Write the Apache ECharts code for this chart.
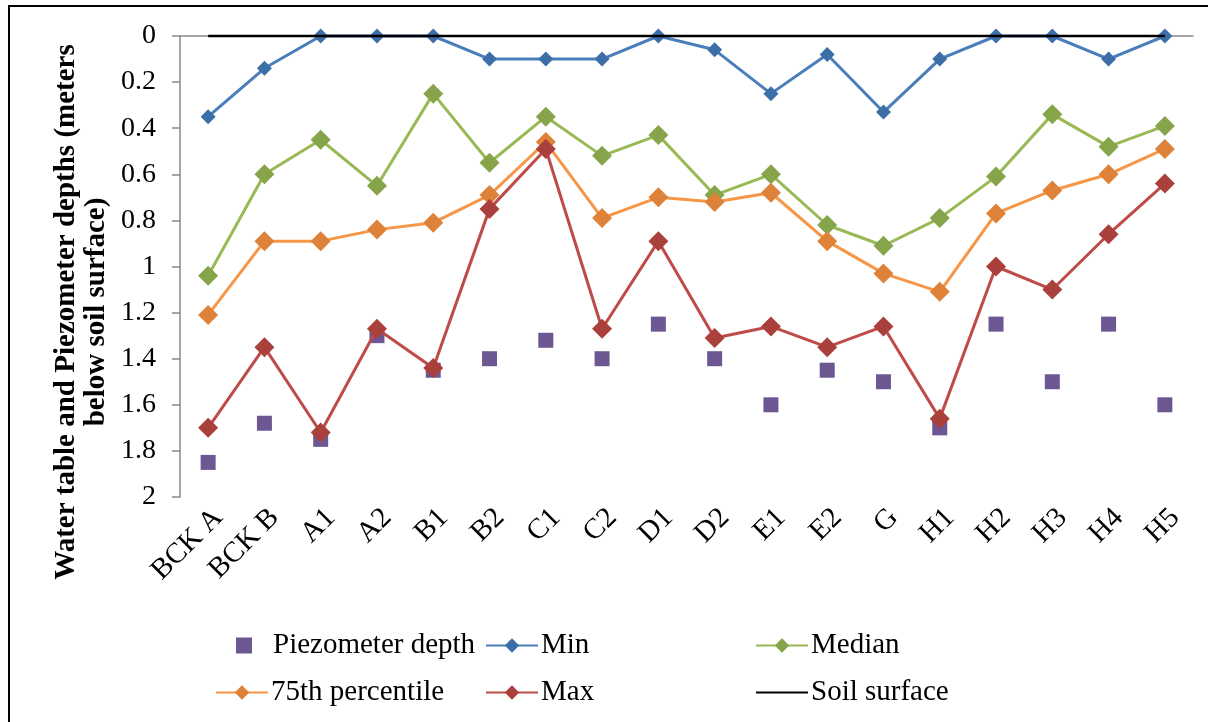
<!DOCTYPE html>
<html>
<head>
<meta charset="utf-8">
<script src="https://cdn.jsdelivr.net/npm/echarts@6/dist/echarts.min.js"></script>
<style>
html,body{margin:0;padding:0;background:#fff;}
#chart{width:1208px;height:722px;}
</style>
</head>
<body>
<div id="chart"></div>
<script>
const categories = ['BCK A','BCK B','A1','A2','B1','B2','C1','C2','D1','D2','E1','E2','G','H1','H2','H3','H4','H5'];
const piezometerDepth = [1.85,1.68,1.75,1.30,1.45,1.40,1.32,1.40,1.25,1.40,1.60,1.45,1.50,1.70,1.25,1.50,1.25,1.60];
const minDepth = [0.35,0.14,0,0,0,0.10,0.10,0.10,0,0.06,0.25,0.08,0.33,0.10,0,0,0.10,0];
const medianDepth = [1.04,0.60,0.45,0.65,0.25,0.55,0.35,0.52,0.43,0.69,0.60,0.82,0.91,0.79,0.61,0.34,0.48,0.39];
const p75Depth = [1.21,0.89,0.89,0.84,0.81,0.69,0.46,0.79,0.70,0.72,0.68,0.89,1.03,1.11,0.77,0.67,0.60,0.49];
const maxDepth = [1.70,1.35,1.72,1.27,1.44,0.75,0.49,1.27,0.89,1.31,1.26,1.35,1.26,1.66,1.00,1.10,0.86,0.64];
const soilSurface = [0,0,0,0,0,0,0,0,0,0,0,0,0,0,0,0,0,0];
const yTicks = {min:0, max:2, interval:0.2};
const yTitle = 'Water table and Piezometer depths (meters\nbelow soil surface)';

const FONT = '"Liberation Serif","Times New Roman",serif';
const chart = echarts.init(document.getElementById('chart'), null, {renderer:'canvas'});

function lineSeries(name, data, lineColor, markerColor, size){
  return {
    name, type:'line', data, clip:false,
    symbol:'diamond', symbolSize:size,
    lineStyle:{color:lineColor, width:3},
    itemStyle:{color:markerColor, opacity:1},
    z:3
  };
}
function legendItem(name, left, top, extra){
  return Object.assign({
    data:[name], left, top, orient:'horizontal',
    itemWidth:52, itemHeight:18, itemGap:0,
    textStyle:{fontFamily:FONT, fontSize:29, color:'#000', padding:[0,0,0,-2]},
    selectedMode:false
  }, extra||{});
}

const option = {
  backgroundColor:'#fff',
  animation:false,
  grid:{left:180, top:36, right:15, bottom:225, containLabel:false},
  xAxis:{
    type:'category', data:categories, boundaryGap:true,
    axisLine:{lineStyle:{color:'#898989', width:1.5}},
    axisTick:{inside:true, length:9, lineStyle:{color:'#898989', width:1.5}},
    axisLabel:{rotate:45, fontFamily:FONT, fontSize:29, color:'#000', margin:6, interval:0, verticalAlign:'top'}
  },
  yAxis:{
    type:'value', inverse:true, min:yTicks.min, max:yTicks.max, interval:yTicks.interval,
    axisLine:{show:true, lineStyle:{color:'#898989', width:1.5}},
    axisTick:{show:true, length:8, lineStyle:{color:'#898989', width:1.5}},
    splitLine:{show:false},
    axisLabel:{fontFamily:FONT, fontSize:28, color:'#000', margin:24}
  },
  legend:[
    legendItem('Piezometer depth', 231, 626, {itemWidth:16, itemHeight:16,
      textStyle:{fontFamily:FONT, fontSize:29, color:'#000', padding:[0,0,0,16]}}),
    legendItem('Min', 480, 626),
    legendItem('Median', 750, 626),
    legendItem('75th percentile', 210, 673),
    legendItem('Max', 480, 673),
    legendItem('Soil surface', 750, 673, {itemStyle:{opacity:0}})
  ],
  graphic:[
    {type:'rect', shape:{x:9, y:6, width:1400, height:900},
     style:{fill:'none', stroke:'#000', lineWidth:2}, silent:true, z:-1},
    {type:'text', x:82, y:312, rotation:Math.PI/2,
     style:{text:yTitle, font:'bold 29px ' + FONT, fill:'#000', align:'center', verticalAlign:'middle', lineHeight:30},
     silent:true}
  ],
  series:[
    {name:'Piezometer depth', type:'scatter', data:piezometerDepth, symbol:'rect', symbolSize:15,
     itemStyle:{color:'#6d5793', opacity:1}, z:2},
    lineSeries('Min', minDepth, '#4a7ebb', '#3c6ea8', 15),
    lineSeries('Median', medianDepth, '#98b954', '#86a44a', 20),
    lineSeries('75th percentile', p75Depth, '#f79646', '#dd8238', 20),
    lineSeries('Max', maxDepth, '#be4b48', '#a9403b', 20),
    {name:'Soil surface', type:'line', data:soilSurface, symbol:'none', clip:false,
     lineStyle:{color:'#000', width:2.5}, itemStyle:{color:'#000'}, z:4}
  ]
};
chart.setOption(option);
</script>
</body>
</html>
